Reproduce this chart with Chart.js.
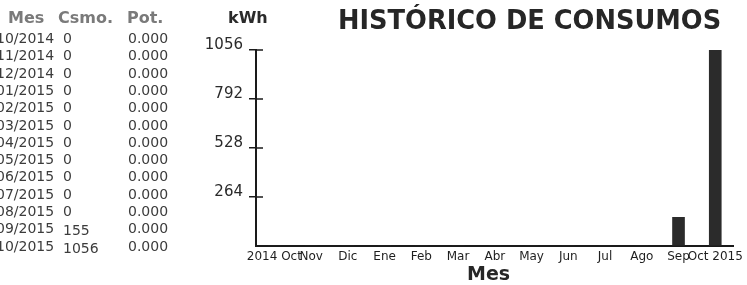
<!DOCTYPE html>
<html>
<head>
<meta charset="utf-8">
<script src="https://cdn.jsdelivr.net/npm/chart.js@4"></script>
<style>
  html, body { margin:0; padding:0; background:#fff; }
  #wrap { position:relative; width:747px; height:285px; overflow:hidden; font-family:"DejaVu Sans", Verdana, sans-serif; }
  canvas { position:absolute; left:0; top:0; }
  .t { position:absolute; white-space:nowrap; }
  .hdr { font-weight:bold; font-size:16px; color:#7a7a7a; line-height:20px; }
  .row { font-size:14px; color:#3c3c3c; line-height:18px; }
</style>
</head>
<body>
<div id="wrap">
  <canvas id="c" width="747" height="285"></canvas>
</div>
<script>
// ---- data ----
const tableMonths = ['10/2014','11/2014','12/2014','01/2015','02/2015','03/2015','04/2015','05/2015','06/2015','07/2015','08/2015','09/2015','10/2015'];
const consumo = [0,0,0,0,0,0,0,0,0,0,0,155,1056];
const potencia = ['0.000','0.000','0.000','0.000','0.000','0.000','0.000','0.000','0.000','0.000','0.000','0.000','0.000'];
const categories = ['2014 Oct','Nov','Dic','Ene','Feb','Mar','Abr','May','Jun','Jul','Ago','Sep','Oct 2015'];
const yTicks = [0,264,528,792,1056];
const headers = ['Mes','Csmo.','Pot.'];
const chartTitle = 'HISTÓRICO DE CONSUMOS';
const yUnit = 'kWh';
const xTitle = 'Mes';

// ---- text (HTML) ----
const wrap = document.getElementById('wrap');
function addText(txt, cls, left, cy, h, extra) {
  const d = document.createElement('div');
  d.className = 't ' + cls;
  d.textContent = txt;
  d.style.left = left + 'px';
  d.style.top = (cy - h/2) + 'px';
  if (extra) Object.assign(d.style, extra);
  wrap.appendChild(d);
}
const hdrX = [8, 58, 127];
headers.forEach((h,i)=>addText(h,'hdr',hdrX[i],18,20));
tableMonths.forEach((m,i)=>{
  const cy = 38 + i*17.3;
  addText(m,'row',-4,cy,18);
  addText(String(consumo[i]),'row',63,cy + (i>=11?2:0),18);
  addText(potencia[i],'row',128,cy,18);
});
addText(yUnit,'',228,18,20,{fontWeight:'bold',fontSize:'16px',color:'#2a2a2a',lineHeight:'20px'});
addText(chartTitle,'',338,20,30,{fontWeight:'bold',fontSize:'25.7px',color:'#262626',lineHeight:'30px'});
addText(xTitle,'',467,273,24,{fontWeight:'bold',fontSize:'19px',color:'#262626',lineHeight:'24px'});

// ---- chart ----
const crossTicks = {
  id:'crossTicks',
  afterDraw(chart){
    const y = chart.scales.y, ctx = chart.ctx, x0 = chart.chartArea.left;
    ctx.save();
    ctx.strokeStyle = '#1a1a1a'; ctx.lineWidth = 1.5;
    yTicks.forEach(v=>{
      if (v===0) return;
      const py = y.getPixelForValue(v);
      ctx.beginPath(); ctx.moveTo(x0, py); ctx.lineTo(x0+7, py); ctx.stroke();
    });
    ctx.restore();
  }
};

new Chart(document.getElementById('c'), {
  type:'bar',
  data:{ labels:categories, datasets:[{ data:consumo, backgroundColor:'#2b2b2b', barThickness:12, borderWidth:0 }] },
  options:{
    responsive:false, animation:false,
    layout:{ padding:{ left:200, right:5, top:50, bottom:0 } },
    plugins:{ legend:{display:false}, tooltip:{enabled:false}, title:{display:false} },
    scales:{
      x:{
        grid:{ display:false, drawTicks:false },
        border:{ display:true, color:'#1a1a1a', width:2 },
        ticks:{ color:'#1e1e1e', font:{ family:'DejaVu Sans', size:12 }, padding:4, maxRotation:0, autoSkip:false },
        afterFit(s){ s.height = 39; }
      },
      y:{
        min:0, max:1056,
        afterBuildTicks(s){ s.ticks = yTicks.map(v=>({value:v})); },
        grid:{ drawOnChartArea:false, tickLength:7, color:(c)=> c.tick && c.tick.value===0 ? 'rgba(0,0,0,0)' : '#1a1a1a', lineWidth:1.5 },
        border:{ display:true, color:'#1a1a1a', width:2 },
        ticks:{ color:'#2a2a2a', font:{ family:'DejaVu Sans', size:15 }, padding:6, labelOffset:-5,
                callback:(v)=> v===0 ? '' : String(v) },
        afterFit(s){ s.width = 56; }
      }
    }
  },
  plugins:[crossTicks]
});
</script>
</body>
</html>
